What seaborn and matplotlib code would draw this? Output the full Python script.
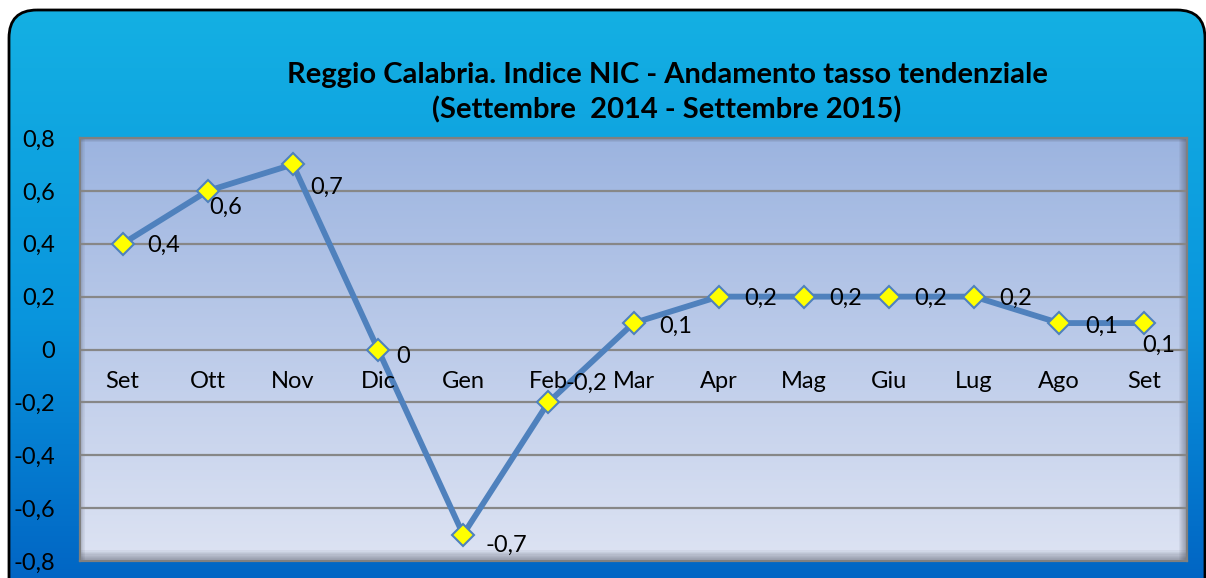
import numpy as np
import matplotlib.pyplot as plt
import seaborn as sns
from matplotlib.patches import FancyBboxPatch
from matplotlib.colors import LinearSegmentedColormap

months = ['Set', 'Ott', 'Nov', 'Dic', 'Gen', 'Feb', 'Mar', 'Apr', 'Mag', 'Giu', 'Lug', 'Ago', 'Set']
values = [0.4, 0.6, 0.7, 0.0, -0.7, -0.2, 0.1, 0.2, 0.2, 0.2, 0.2, 0.1, 0.1]
value_labels = ['0,4', '0,6', '0,7', '0', '-0,7', '-0,2', '0,1', '0,2', '0,2', '0,2', '0,2', '0,1', '0,1']
y_ticks = [-0.8, -0.6, -0.4, -0.2, 0.0, 0.2, 0.4, 0.6, 0.8]
y_tick_labels = ['-0,8', '-0,6', '-0,4', '-0,2', '0', '0,2', '0,4', '0,6', '0,8']
# where each data label sits relative to its point (pixels)
label_offsets = [(41, -2), (18, -16), (34, -23), (25, -7), (43, -11), (38, 19), (42, -3),
                 (42, -2), (42, -2), (42, -2), (42, -2), (42, -3), (14, -22)]

sns.set_style('white')
plt.rcParams['font.family'] = ['Lato', 'DejaVu Sans']

W, H = 1206, 578
fig = plt.figure(figsize=(W / 100, H / 100), dpi=100)
fig.patch.set_facecolor('white')

# outer rounded panel with blue gradient
bg = fig.add_axes([0, 0, 1, 1])
bg.set_xlim(0, W)
bg.set_ylim(H, 0)
bg.axis('off')
box = FancyBboxPatch((9, 10), 1196, 620, boxstyle='round,pad=0,rounding_size=28',
                     facecolor='none', edgecolor='black', linewidth=2, zorder=3)
bg.add_patch(box)
panel_cmap = LinearSegmentedColormap.from_list('panel', ['#14B0E3', '#0995DD', '#005CBF'])
grad = np.linspace(0, 1, 256).reshape(-1, 1)
img = bg.imshow(grad, cmap=panel_cmap, extent=(9, 1205, 630, 10), aspect='auto', zorder=1)
img.set_clip_path(box)

bg.text(667, 75, 'Reggio Calabria. Indice NIC - Andamento tasso tendenziale',
        ha='center', va='center', fontsize=21, fontweight='bold', color='black', zorder=4)
bg.text(667, 110, '(Settembre  2014 - Settembre 2015)',
        ha='center', va='center', fontsize=21, fontweight='bold', color='black', zorder=4)

# plot area
ax = fig.add_axes([80 / W, 1 - 561 / H, (1187 - 80) / W, (561 - 138) / H])
ax.set_facecolor('none')
area_cmap = LinearSegmentedColormap.from_list('area', ['#9CB4E0', '#DDE3F3'])
ax.imshow(grad, cmap=area_cmap, extent=(-0.5, 12.5, -0.8, 0.8), aspect='auto', zorder=0)
# soft inner shadow along the edges
for k in range(8):
    ax.axhspan(-0.8, -0.8 + 0.005 * (8 - k), color='#4a5060', alpha=0.07, lw=0, zorder=0.6)
    ax.axvspan(12.5 - 0.012 * (8 - k), 12.5, color='#4a5060', alpha=0.07, lw=0, zorder=0.6)
    ax.axvspan(-0.5, -0.5 + 0.008 * (8 - k), color='#4a5060', alpha=0.04, lw=0, zorder=0.6)
    ax.axhspan(0.8 - 0.002 * (8 - k), 0.8, color='#4a5060', alpha=0.05, lw=0, zorder=0.6)

for yv in y_ticks[1:-1]:
    ax.axhline(yv, color='#878787', lw=1.6, zorder=1)

positions = np.arange(len(months))
sns.lineplot(x=positions, y=values, ax=ax, color='#4F81BD', linewidth=4.2, marker='D',
             markersize=11, markerfacecolor='#FFFF00', markeredgecolor='#4F81BD',
             markeredgewidth=1.5, zorder=3)

ax.set_xlim(-0.5, 12.5)
ax.set_ylim(-0.8, 0.8)
ax.set_xticks([])
ax.set_yticks(y_ticks)
ax.set_yticklabels(y_tick_labels, fontsize=17, color='black')
ax.tick_params(axis='y', length=0, pad=18)
for side in ['top', 'bottom', 'left', 'right']:
    ax.spines[side].set_color('#808080')
    ax.spines[side].set_linewidth(1.6)
    ax.spines[side].set_visible(True)

# category labels sit just below the zero line
for x, m in zip(positions, months):
    ax.annotate(m, xy=(x, 0), xytext=(0, -22), textcoords='offset pixels',
                ha='center', va='top', fontsize=17, color='black', zorder=4)

for x, v, lab, off in zip(positions, values, value_labels, label_offsets):
    ax.annotate(lab, xy=(x, v), xytext=off, textcoords='offset pixels',
                ha='center', va='center', fontsize=17, color='black', zorder=5)

fig.savefig('out.png', dpi=100)
